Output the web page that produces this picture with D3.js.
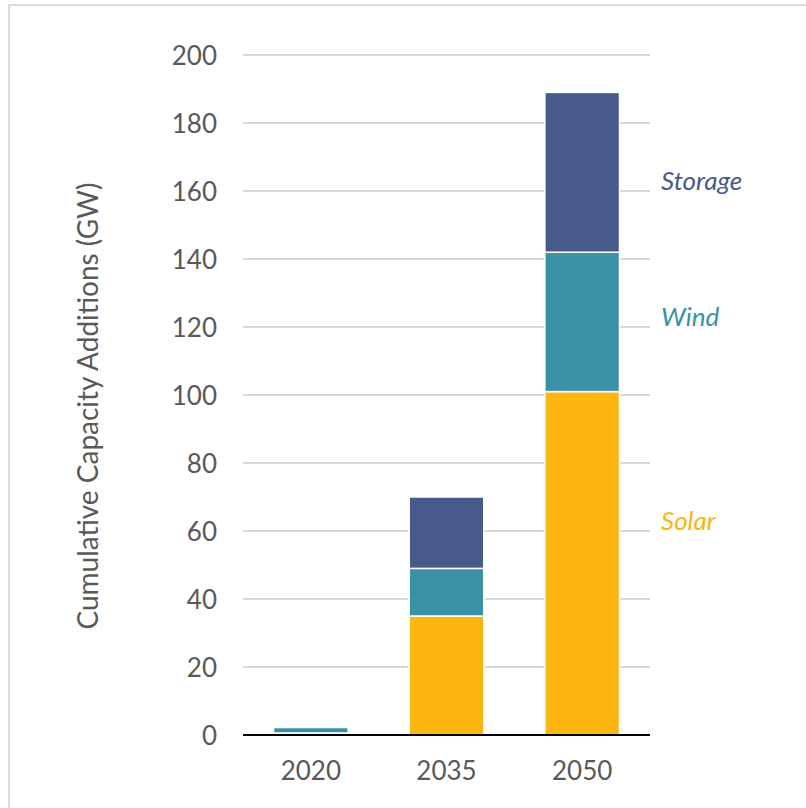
<!DOCTYPE html>
<html>
<head>
<meta charset="utf-8">
<script src="https://cdn.jsdelivr.net/npm/d3@7"></script>
<style>
  html, body { margin: 0; padding: 0; background: #fff; }
  svg { display: block; }
  text { font-family: Lato, "Open Sans", sans-serif; }
</style>
</head>
<body>
<svg id="chart" width="806" height="808"></svg>
<script>
const years = ["2020", "2035", "2050"];
const seriesNames = ["Solar", "Wind", "Storage"];
const solar = [0.6, 35, 101];
const wind = [1.6, 14, 41];
const storage = [0, 21, 47];
const yTicks = [0, 20, 40, 60, 80, 100, 120, 140, 160, 180, 200];
const labelValues = [63, 123, 163]; // vertical positions of series labels (GW)
const colors = ["#FDB50F", "#3A91A5", "#485A8A"];

(function () {
const svg = d3.select("#chart");
const W = 806, H = 808;
const mLeft = 243, mRight = 650, mTop = 55, mBottom = 735;

// frame
svg.append("line").attr("x1", 8).attr("x2", W).attr("y1", 5).attr("y2", 5)
  .attr("stroke", "#D6DCE4").attr("stroke-width", 2);
svg.append("line").attr("x1", 9).attr("x2", 9).attr("y1", 4).attr("y2", H)
  .attr("stroke", "#D6DCE4").attr("stroke-width", 2);

const y = d3.scaleLinear().domain([0, 200]).range([mBottom, mTop]);
const x = d3.scaleBand().domain(years).range([mLeft, mRight]).paddingInner(0.45).paddingOuter(0.225);

// gridlines
svg.append("g").selectAll("line").data(yTicks.filter(t => t > 0)).join("line")
  .attr("x1", mLeft).attr("x2", mRight)
  .attr("y1", d => y(d)).attr("y2", d => y(d))
  .attr("stroke", "#D9D9D9").attr("stroke-width", 2);

// y axis labels
const yAxis = d3.axisLeft(y).tickValues(yTicks).tickSize(0).tickPadding(0);
const ya = svg.append("g").attr("transform", `translate(217,0)`).call(yAxis);
ya.select(".domain").remove();
ya.selectAll("text").attr("fill", "#595959").attr("font-size", 26)
  .attr("font-family", "Lato, sans-serif").attr("dy", "0.36em");

// stacked data
const rows = years.map((yr, i) => ({ year: yr, Solar: solar[i], Wind: wind[i], Storage: storage[i] }));
const stack = d3.stack().keys(seriesNames)(rows);

svg.append("g").selectAll("g").data(stack).join("g")
  .attr("fill", (d, i) => colors[i])
  .selectAll("rect").data(d => d.filter(s => s[1] - s[0] > 0)).join("rect")
  .attr("x", d => x(d.data.year))
  .attr("width", x.bandwidth())
  .attr("y", d => y(d[1]))
  .attr("height", d => y(d[0]) - y(d[1]))
  .attr("stroke", "#fff").attr("stroke-width", 1.5);

// x axis
const xAxis = d3.axisBottom(x).tickSize(0).tickPadding(0);
const xa = svg.append("g").attr("transform", `translate(0,${mBottom})`).call(xAxis);
xa.select(".domain").remove();
xa.selectAll("text").attr("fill", "#595959").attr("font-size", 26)
  .attr("font-family", "Lato, sans-serif").attr("dy", 45);
svg.append("line").attr("x1", mLeft).attr("x2", mRight).attr("y1", mBottom).attr("y2", mBottom)
  .attr("stroke", "#000").attr("stroke-width", 2);

// series labels
svg.append("g").selectAll("text").data(seriesNames).join("text")
  .attr("x", 661).attr("y", (d, i) => y(labelValues[i]))
  .attr("dy", "0.35em")
  .attr("fill", (d, i) => colors[i])
  .attr("font-size", 26).attr("font-style", "italic")
  .text(d => d);

// y title
svg.append("text")
  .attr("transform", `translate(98,406) rotate(-90)`)
  .attr("text-anchor", "middle")
  .attr("fill", "#595959").attr("font-size", 28)
  .text("Cumulative Capacity Additions (GW)");
})();
</script>
</body>
</html>
